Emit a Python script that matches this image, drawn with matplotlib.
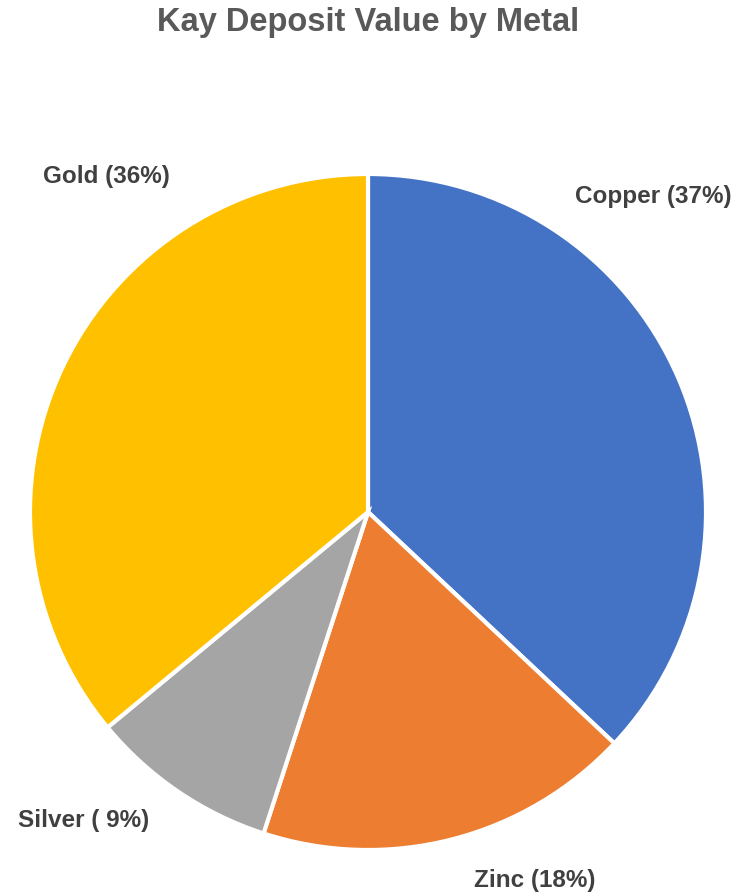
import matplotlib.pyplot as plt

metals = ['Copper', 'Zinc', 'Silver', 'Gold']
shares = [37, 18, 9, 36]
pct_labels = ['37%', '18%', ' 9%', '36%']
colors = ['#4472C4', '#ED7D31', '#A5A5A5', '#FFC000']

# label anchors in pixel coords (x from left, y from top)
label_pos = [(653, 196), (535, 880), (84, 820), (106, 177)]

W, H = 746, 893
fig = plt.figure(figsize=(W / 100, H / 100), dpi=100)
ax = fig.add_axes([0, 0, 1, 1])
ax.set_xlim(0, W)
ax.set_ylim(0, H)
ax.set_aspect('equal')
ax.axis('off')

ax.pie(shares, colors=colors, startangle=90, counterclock=False,
       center=(368, H - 512), radius=338,
       wedgeprops=dict(edgecolor='white', linewidth=3))
ax.set_xlim(0, W)
ax.set_ylim(0, H)

for name, pct, (x, y) in zip(metals, pct_labels, label_pos):
    ax.text(x, H - y, f'{name} ({pct})', ha='center', va='center',
            fontsize=17.5, fontweight='bold', color='#404040',
            family='Liberation Sans')

ax.text(368, H - 23, 'Kay Deposit Value by Metal', ha='center', va='center',
        fontsize=23.5, fontweight='bold', color='#595959',
        family='Liberation Sans')

fig.savefig('out.png', dpi=100)
